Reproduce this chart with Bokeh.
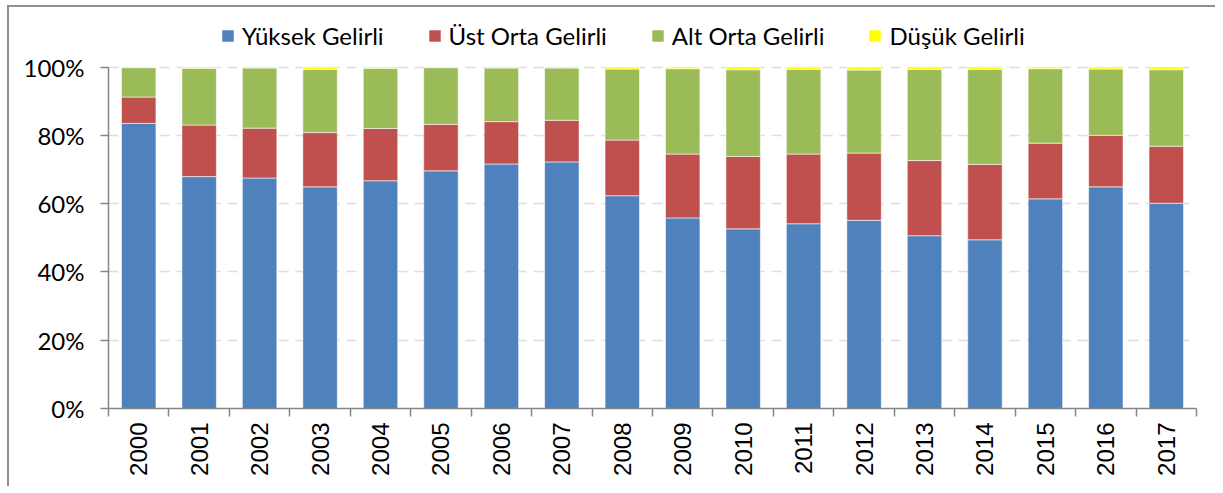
import math
from bokeh.plotting import figure
from bokeh.models import (Range1d, FixedTicker, CustomJSTickFormatter, PrintfTickFormatter,
                          Legend, LegendItem, ColumnDataSource)
from bokeh.embed import file_html
from bokeh.resources import INLINE

years = [str(y) for y in range(2000, 2018)]
series_names = ["Yüksek Gelirli", "Üst Orta Gelirli", "Alt Orta Gelirli", "Düşük Gelirli"]
yuksek = [83.5, 67.9, 67.5, 64.9, 66.7, 69.6, 71.6, 72.2, 62.3, 55.8, 52.6, 54.1, 55.1, 50.6, 49.4, 61.4, 64.9, 60.1]
ust_orta = [7.7, 15.1, 14.6, 15.9, 15.3, 13.6, 12.4, 12.2, 16.3, 18.7, 21.2, 20.4, 19.7, 22.0, 22.1, 16.3, 15.1, 16.7]
alt_orta = [8.6, 16.6, 17.6, 18.5, 17.6, 16.6, 15.7, 15.3, 20.8, 25.0, 25.4, 24.8, 24.3, 26.7, 27.8, 21.8, 19.4, 22.4]
dusuk = [0.2, 0.4, 0.3, 0.7, 0.4, 0.2, 0.3, 0.3, 0.6, 0.5, 0.8, 0.7, 0.9, 0.7, 0.7, 0.5, 0.6, 0.8]
y_ticks = [0, 20, 40, 60, 80, 100]

colors = ["#4F81BD", "#C0504D", "#9BBB59", "#FFFF00"]
keys = ["yuksek", "ust", "alt", "dusuk"]

n = len(years)
source = ColumnDataSource(dict(x=[i + 0.5 for i in range(n)], yuksek=yuksek, ust=ust_orta,
                               alt=alt_orta, dusuk=dusuk))

# layout (pixels)
FRAME_W = 1088
DATA_H = 341.5           # pixel height from 0% to 100%
FRAME_H = 398            # frame extended upward to host the legend
Y_END = 100 * FRAME_H / DATA_H

p = figure(frame_width=FRAME_W, frame_height=FRAME_H, output_backend="svg", toolbar_location=None,
           x_range=Range1d(0, n), y_range=Range1d(0, Y_END),
           min_border_left=99, min_border_right=19, min_border_top=3, min_border_bottom=78)
p.outline_line_color = None
p.background_fill_color = "white"
p.border_fill_color = "white"
p.styles = {"border-top": "2px solid #8f8f8f", "border-left": "2px solid #8f8f8f",
            "margin-left": "7px", "margin-top": "5px"}

renderers = p.vbar_stack(keys, x="x", width=0.57, source=source, color=colors,
                         line_color="white", line_alpha=0.55, line_width=1)

# x axis: labels at category centres, ticks at category boundaries
p.xaxis.ticker = FixedTicker(ticks=[i + 0.5 for i in range(n)], minor_ticks=list(range(n + 1)))
p.xaxis.formatter = CustomJSTickFormatter(args=dict(labels=years),
                                          code="return labels[Math.floor(tick)];")
p.xaxis.major_label_orientation = math.pi / 2
p.xaxis.major_tick_out = 0
p.xaxis.major_tick_in = 0
p.xaxis.minor_tick_out = 8
p.xaxis.minor_tick_in = 0
p.xaxis.minor_tick_line_color = "#868686"
p.xaxis.minor_tick_line_width = 1.5
p.xaxis.axis_line_color = "#868686"
p.xaxis.axis_line_width = 1.5
p.xaxis.major_label_text_font = "Liberation Sans"
p.xaxis.major_label_text_font_size = "24px"
p.xaxis.major_label_text_color = "black"
p.xaxis.major_label_standoff = 6

# y axis
p.yaxis.ticker = FixedTicker(ticks=y_ticks)
p.yaxis.bounds = (0, 100)
p.yaxis.formatter = PrintfTickFormatter(format="%d%%")
p.yaxis.major_tick_out = 8
p.yaxis.major_tick_in = 0
p.yaxis.minor_tick_line_color = None
p.yaxis.major_tick_line_color = "#868686"
p.yaxis.major_tick_line_width = 1.5
p.yaxis.axis_line_color = "#868686"
p.yaxis.axis_line_width = 1.5
p.yaxis.major_label_text_font = "Lato"
p.yaxis.major_label_text_font_size = "24px"
p.yaxis.major_label_text_color = "black"
p.yaxis.major_label_standoff = 16

p.xgrid.grid_line_color = None
p.ygrid.grid_line_color = "#dedede"
p.ygrid.grid_line_dash = "10 7"
p.ygrid.grid_line_width = 1.5

legend = Legend(items=[LegendItem(label=name, renderers=[r]) for name, r in zip(series_names, renderers)],
                orientation="horizontal", location=(112, 358))
legend.glyph_width = 15
legend.glyph_height = 15
legend.label_standoff = 7
legend.spacing = 43
legend.padding = 0
legend.margin = 0
legend.border_line_color = None
legend.background_fill_alpha = 0
legend.label_text_font = "Lato"
legend.label_text_font_size = "24px"
legend.label_text_color = "black"
p.add_layout(legend, "center")

open("out.html", "w").write(file_html(p, INLINE))
